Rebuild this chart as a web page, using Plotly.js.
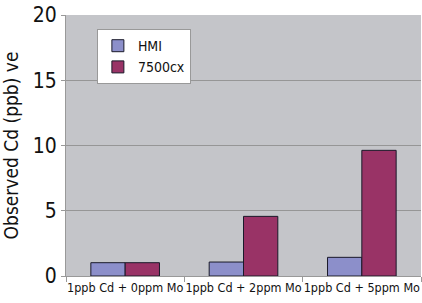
<!DOCTYPE html>
<html><head><meta charset="utf-8">
<script src="https://cdn.plot.ly/plotly-3.0.1.min.js"></script>
<style>html,body{margin:0;padding:0;background:#fff}#c{width:422px;height:303px}</style>
</head><body><div id="c"></div>
<script>
const categories = ["1ppb Cd + 0ppm Mo", "1ppb Cd + 2ppm Mo", "1ppb Cd + 5ppm Mo"];
const hmi = [1.02, 1.07, 1.43];
const cx7500 = [1.02, 4.57, 9.63];
const yTicks = [0, 5, 10, 15, 20];

const F = '"DejaVu Sans Condensed", "Liberation Sans Narrow", Arial, sans-serif';
const data = [
  {type: 'bar', name: 'HMI', x: categories, y: hmi,
   marker: {color: '#8c8fca', line: {color: '#1a1a2a', width: 1}}},
  {type: 'bar', name: '7500cx', x: categories, y: cx7500,
   marker: {color: '#993366', line: {color: '#1a1a2a', width: 1}}}
];
const layout = {
  width: 422, height: 303,
  margin: {l: 66, r: 1, t: 15, b: 27},
  paper_bgcolor: '#ffffff', plot_bgcolor: '#c4c5c9',
  font: {family: F, color: '#111'},
  barmode: 'group', bargap: 0.42, bargroupgap: 0,
  showlegend: true,
  legend: {x: 0.087, y: 0.946, xanchor: 'left', yanchor: 'top',
    bgcolor: '#ffffff', bordercolor: '#999999', borderwidth: 1,
    font: {family: F, size: 14, color: '#111'}, itemwidth: 30, tracegroupgap: 4},
  xaxis: {type: 'category', tickson: 'boundaries', ticks: 'outside', ticklen: 5,
    tickcolor: '#999', showline: true, linecolor: '#999', linewidth: 1, tickangle: 0,
    tickfont: {family: F, size: 12.5, color: '#111'}, showgrid: false},
  yaxis: {range: [0, 20], tickvals: yTicks, ticks: 'outside', ticklen: 4, tickcolor: '#999',
    showline: true, linecolor: '#999', showgrid: true, gridcolor: '#969696', gridwidth: 1,
    zeroline: false, tickfont: {family: F, size: 21, color: '#111'},
    title: {text: 'Observed Cd (ppb) ve', font: {family: F, size: 19, color: '#111'}, standoff: 10}}
};
Plotly.newPlot('c', data, layout, {displayModeBar: false, staticPlot: true});
</script></body></html>
